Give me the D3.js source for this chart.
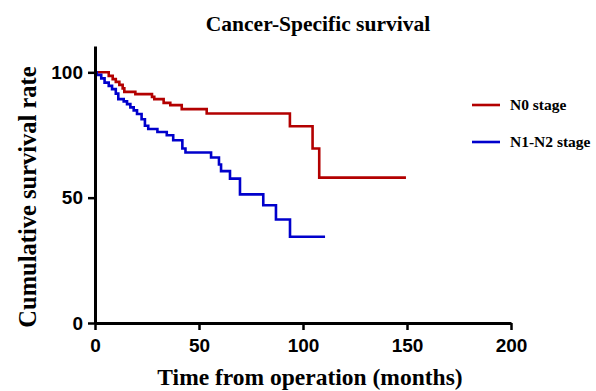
<!DOCTYPE html>
<html>
<head>
<meta charset="utf-8">
<script src="https://cdn.jsdelivr.net/npm/d3@7"></script>
<style>
  body { margin: 0; background: #fff; }
  svg { display: block; }
</style>
</head>
<body>
<svg width="596" height="391"></svg>
<script>
// Kaplan-Meier steps: [months, survival %]
var n0Times = [0, 6.6, 8.5, 10, 11.7, 13.3, 14.1, 19.4, 27.4, 28.5, 33, 36.2, 41.7, 53.7, 93.7, 104.6, 107.8, 149.5];
var n0Surv  = [100, 98.6, 97.3, 96.2, 95, 93.6, 92.2, 91.3, 90.2, 89.3, 87.8, 86.9, 85.3, 83.6, 78.5, 69.6, 58, 58];

var n12Times = [0, 0.8, 3, 4.6, 6.6, 8.2, 10, 11.2, 13.8, 15.4, 17, 18.6, 20.2, 22.4, 24, 25.6, 30, 34.5, 37.6, 42, 43.5, 55.8, 59.6, 60.6, 64.9, 69.7, 80.9, 87, 93.75, 110.6];
var n12Surv  = [100, 99, 97.6, 95.9, 94.6, 93.3, 91.5, 89.3, 88.4, 87.3, 86, 84.8, 83.4, 81.3, 78.7, 77.4, 76.2, 74.9, 72.9, 69.6, 68, 66, 63.2, 60.6, 57.6, 51.3, 47, 41.3, 34.4, 34.4];

var seriesNames = ["N0 stage", "N1-N2 stage"];
var seriesColors = ["#b30000", "#0000cc"];
var xTicks = [0, 50, 100, 150, 200];
var yTicks = [0, 50, 100];

var svg = d3.select("svg");

var x = d3.scaleLinear().domain([0, 200]).range([95, 511]),
    y = d3.scaleLinear().domain([0, 110.5]).range([323, 46]);

var line = d3.line()
  .curve(d3.curveStepAfter)
  .x(function(d) { return x(d[0]); })
  .y(function(d) { return y(d[1]); });

var series = [
  d3.zip(n0Times, n0Surv),
  d3.zip(n12Times, n12Surv)
];

series.forEach(function(s, i) {
  svg.append("path")
    .datum(s)
    .attr("fill", "none")
    .attr("stroke", seriesColors[i])
    .attr("stroke-width", 2.6)
    .attr("d", line);
});

// axes
var xAxis = svg.append("g")
  .attr("transform", "translate(0," + y(0) + ")")
  .call(d3.axisBottom(x).tickValues(xTicks).tickSize(7).tickSizeOuter(0).tickPadding(9));

var yAxis = svg.append("g")
  .attr("transform", "translate(" + x(0) + ",0)")
  .call(d3.axisLeft(y).tickValues(yTicks).tickSize(7).tickSizeOuter(0).tickPadding(5));

[xAxis, yAxis].forEach(function(a) {
  a.select(".domain").attr("stroke", "#000").attr("stroke-width", 3);
  a.selectAll(".tick line").attr("stroke", "#000").attr("stroke-width", 2.5);
  a.selectAll(".tick text")
    .attr("fill", "#000")
    .style("font-family", "'Liberation Sans', Arial, sans-serif")
    .style("font-weight", "bold")
    .style("font-size", "19px");
});

// titles
var serif = "'Liberation Serif', 'Times New Roman', serif";

svg.append("text")
  .attr("x", 318).attr("y", 31)
  .attr("text-anchor", "middle")
  .style("font-family", serif).style("font-weight", "bold").style("font-size", "21.5px")
  .text("Cancer-Specific survival");

svg.append("text")
  .attr("x", 310).attr("y", 385)
  .attr("text-anchor", "middle")
  .style("font-family", serif).style("font-weight", "bold").style("font-size", "23.5px")
  .text("Time from operation (months)");

svg.append("text")
  .attr("transform", "translate(36,197) rotate(-90)")
  .attr("text-anchor", "middle")
  .style("font-family", serif).style("font-weight", "bold").style("font-size", "24.5px")
  .text("Cumulative survival rate");

// legend
var legend = svg.selectAll(".legend")
  .data(seriesNames)
  .enter().append("g")
  .attr("class", "legend")
  .attr("transform", function(d, i) { return "translate(472," + (105 + i * 37) + ")"; });

legend.append("line")
  .attr("x1", 0).attr("x2", 28)
  .attr("stroke", function(d, i) { return seriesColors[i]; })
  .attr("stroke-width", 2.6);

legend.append("text")
  .attr("x", 38).attr("y", 5)
  .style("font-family", serif).style("font-weight", "bold").style("font-size", "15.5px")
  .text(function(d) { return d; });
</script>
</body>
</html>
